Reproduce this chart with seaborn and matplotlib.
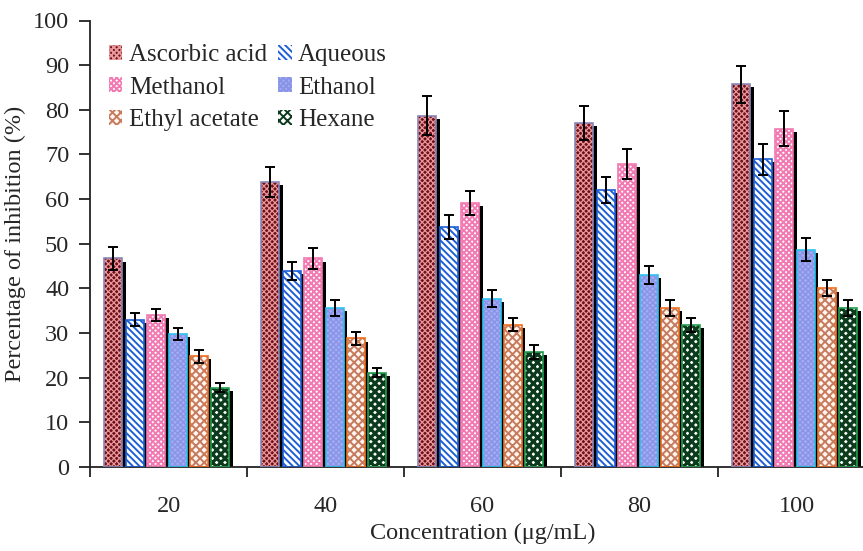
import matplotlib
matplotlib.use("Agg")
import matplotlib.pyplot as plt
from matplotlib.patches import Rectangle, Patch
import seaborn as sns
import pandas as pd
import numpy as np

concentrations = ["20", "40", "60", "80", "100"]
extracts = ["Ascorbic acid", "Aqueous", "Methanol", "Ethanol", "Ethyl acetate", "Hexane"]

ascorbic = [46.7, 63.8, 78.7, 77.0, 85.7]
aqueous = [33.0, 43.9, 53.8, 62.0, 68.9]
methanol = [34.0, 46.7, 59.1, 67.9, 75.8]
ethanol = [29.8, 35.7, 37.7, 43.0, 48.7]
ethyl_acetate = [24.8, 28.8, 31.9, 35.7, 40.0]
hexane = [17.8, 21.1, 25.8, 31.8, 35.7]

err_ascorbic = [2.6, 3.3, 4.3, 3.8, 4.2]
err_aqueous = [1.4, 2.0, 2.7, 2.9, 3.5]
err_methanol = [1.3, 2.4, 2.7, 3.4, 3.9]
err_ethanol = [1.4, 1.8, 1.9, 2.0, 2.6]
err_ethyl_acetate = [1.5, 1.4, 1.4, 1.8, 1.8]
err_hexane = [1.1, 1.0, 1.5, 1.5, 1.8]

values = [ascorbic, aqueous, methanol, ethanol, ethyl_acetate, hexane]
errors = [err_ascorbic, err_aqueous, err_methanol, err_ethanol, err_ethyl_acetate, err_hexane]

# styles: (face, hatch colour, hatch, outline, hatch linewidth)
styles = [
    ("#6e0f1c", "#e89898", "xxxxxx", "#8a86b8", 0.9),
    ("#ffffff", "#1d5fd6", "\\\\\\\\\\", "#1d5fd6", 1.4),
    ("#ffffff", "#f27ab2", "xxxxxx", "#f27ab2", 1.4),
    ("#a3acf4", "#8a94e6", "xxxxxx", "#2cc4f0", 1.0),
    ("#fff6f0", "#c67a5e", "xxxx", "#f07020", 1.4),
    ("#ffffff", "#0b3a1c", "xxxx", "#23a04f", 2.3),
]

rows = []
for ext, vals in zip(extracts, values):
    for c, v in zip(concentrations, vals):
        rows.append({"Concentration": c, "Inhibition": v, "Extract": ext})
df = pd.DataFrame(rows)

sns.set_style("ticks")
plt.rcParams["font.family"] = ["Liberation Serif", "DejaVu Serif"]
plt.rcParams["hatch.linewidth"] = 1.4


def set_hlw(p, lw):
    if hasattr(p, "set_hatch_linewidth"):
        p.set_hatch_linewidth(lw)
    else:
        p._hatch_linewidth = lw


fig = plt.figure(figsize=(8.63, 5.51), dpi=100)
ax = fig.add_axes([90 / 863, 84 / 551, 785 / 863, 446.5 / 551])

palette = {e: s[0] for e, s in zip(extracts, styles)}
sns.barplot(data=df, x="Concentration", y="Inhibition", hue="Extract",
            order=concentrations, hue_order=extracts, palette=palette,
            errorbar=None, width=0.82, legend=False, ax=ax, saturation=1)

bar_containers = list(ax.containers)
frac = 0.84
for i, cont in enumerate(bar_containers):
    face, hcol, hatch, outline, hlw = styles[i]
    for j, bar in enumerate(cont):
        x = bar.get_x()
        w = bar.get_width()
        h = bar.get_height()
        vis = w * frac
        # drop shadow
        ax.add_patch(Rectangle((x + w - vis, 0), vis, h - 0.7, facecolor="black",
                               edgecolor="none", zorder=1))
        bar.set_width(vis)
        bar.set_facecolor(face)
        bar.set_edgecolor(hcol)
        bar.set_hatch(hatch)
        set_hlw(bar, hlw)
        bar.set_linewidth(0)
        bar.set_zorder(2)
        ax.add_patch(Rectangle((x, 0), vis, h, fill=False, edgecolor=outline,
                               linewidth=1.2, zorder=3))
        ax.errorbar(x + vis / 2, h, yerr=errors[i][j], color="black",
                    capsize=3.8, elinewidth=1.4, capthick=1.4, zorder=4)

ax.set_ylim(0, 100)
ax.set_xlim(-0.5, 4.5)
ax.set_yticks(np.arange(0, 101, 10))
ax.set_xticks(range(len(concentrations)))
ax.set_xticklabels(concentrations)
ax.set_xticks(np.arange(-0.5, 5.0, 1.0), minor=True)
ax.tick_params(axis="x", which="major", length=0, pad=21, labelsize=17.5)
ax.tick_params(axis="x", which="minor", length=7, width=1.3, color="#222222")
ax.tick_params(axis="y", length=8, width=1.3, color="#222222", pad=7, labelsize=17.5)

for s in ["top", "right"]:
    ax.spines[s].set_visible(False)
for s in ["left", "bottom"]:
    ax.spines[s].set_linewidth(1.3)
    ax.spines[s].set_color("#222222")

ax.set_xlabel("Concentration (\u03bcg/mL)", fontsize=17.5, labelpad=4)
ax.set_ylabel("Percentage of inhibition (%)", fontsize=17.5, labelpad=5)

order = [0, 2, 4, 1, 3, 5]
handles = []
for k in order:
    hp = Patch(facecolor=styles[k][0], edgecolor=styles[k][1], hatch=styles[k][2],
               linewidth=0)
    set_hlw(hp, styles[k][4])
    handles.append(hp)
labels = [extracts[k] for k in order]
leg = ax.legend(handles, labels, ncol=2, loc="upper left", bbox_to_anchor=(-0.008, 1.003),
                frameon=False, fontsize=18, handlelength=0.55, handleheight=0.55,
                handletextpad=0.25, columnspacing=0.45, labelspacing=0.42,
                borderaxespad=0.6)

fig.savefig("out.png", dpi=100)
